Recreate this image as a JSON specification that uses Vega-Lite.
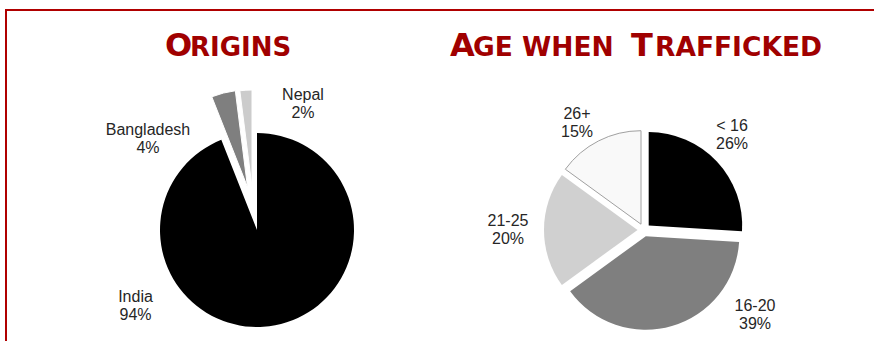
{
  "$schema": "https://vega.github.io/schema/vega-lite/v6.json",
  "width": 868,
  "height": 331,
  "autosize": {"type": "none"},
  "padding": {"left": 6, "top": 10, "right": 0, "bottom": 0},
  "background": "white",
  "view": {"stroke": null},
  "data": {
    "values": [
      {"chart": "Origins", "cat": "India", "pct": 94, "ord": 1},
      {"chart": "Origins", "cat": "Bangladesh", "pct": 4, "ord": 2},
      {"chart": "Origins", "cat": "Nepal", "pct": 2, "ord": 3},
      {"chart": "Age", "cat": "< 16", "pct": 26, "ord": 1},
      {"chart": "Age", "cat": "16-20", "pct": 39, "ord": 2},
      {"chart": "Age", "cat": "21-25", "pct": 20, "ord": 3},
      {"chart": "Age", "cat": "26+", "pct": 15, "ord": 4}
    ]
  },
  "transform": [
    {"stack": "pct", "groupby": ["chart"], "sort": [{"field": "ord", "order": "ascending"}], "as": ["v0", "v1"]},
    {"calculate": "datum.cat + '\\n' + datum.pct + '%'", "as": "label"}
  ],
  "encoding": {
    "x": {"field": "chart", "type": "nominal", "scale": {"type": "point", "padding": 0, "domain": ["Origins", "Age"], "range": [251, 638]}, "axis": null},
    "y": {"value": 220}
  },
  "layer": [
    {
      "transform": [{"filter": "datum.cat === 'India'"}],
      "mark": {"type": "rule", "color": "#b00000", "strokeWidth": 2},
      "encoding": {"x": {"value": -1}, "x2": {"value": 870}, "y": {"value": 0}}
    },
    {
      "transform": [{"filter": "datum.cat === 'India'"}],
      "mark": {"type": "rule", "color": "#b00000", "strokeWidth": 2},
      "encoding": {"x": {"value": 0}, "y": {"value": 0}, "y2": {"value": 333}}
    },
    {
      "transform": [{"filter": "datum.cat === 'India'"}],
      "layer": [
        {"mark": {"type": "arc", "radius": 97},
         "encoding": {
           "theta": {"field": "v0", "type": "quantitative", "scale": {"domain": [0, 100], "range": [0, 6.283185307]}},
           "theta2": {"field": "v1"},
           "color": {"field": "cat", "type": "nominal", "legend": null, "scale": {"domain": ["India", "Bangladesh", "Nepal", "< 16", "16-20", "21-25", "26+"], "range": ["#000000", "#7f7f7f", "#cccccc", "#000000", "#7f7f7f", "#d0d0d0", "#f9f9f9"]}}
         }},
        {"mark": {"type": "text", "dx": -121.5, "dy": 72, "align": "center", "baseline": "alphabetic", "lineBreak": "\n", "lineHeight": 18, "font": "Liberation Sans", "fontSize": 16, "color": "#262626"},
         "encoding": {"text": {"field": "label"}}}
      ]
    },
    {
      "transform": [{"filter": "datum.cat === 'Bangladesh'"}],
      "layer": [
        {"mark": {"type": "arc", "radius": 97, "xOffset": -9.5, "yOffset": -43, "stroke": "white", "strokeWidth": 1},
         "encoding": {
           "theta": {"field": "v0", "type": "quantitative", "scale": {"domain": [0, 100], "range": [0, 6.283185307]}},
           "theta2": {"field": "v1"},
           "color": {"field": "cat", "type": "nominal", "legend": null}
         }},
        {"mark": {"type": "text", "dx": -109, "dy": -95, "align": "center", "baseline": "alphabetic", "lineBreak": "\n", "lineHeight": 18, "font": "Liberation Sans", "fontSize": 16, "color": "#262626"},
         "encoding": {"text": {"field": "label"}}}
      ]
    },
    {
      "transform": [{"filter": "datum.cat === 'Nepal'"}],
      "layer": [
        {"mark": {"type": "arc", "radius": 97, "xOffset": -5, "yOffset": -43, "stroke": "white", "strokeWidth": 1},
         "encoding": {
           "theta": {"field": "v0", "type": "quantitative", "scale": {"domain": [0, 100], "range": [0, 6.283185307]}},
           "theta2": {"field": "v1"},
           "color": {"field": "cat", "type": "nominal", "legend": null}
         }},
        {"mark": {"type": "text", "dx": 46, "dy": -130.5, "align": "center", "baseline": "alphabetic", "lineBreak": "\n", "lineHeight": 18, "font": "Liberation Sans", "fontSize": 16, "color": "#262626"},
         "encoding": {"text": {"field": "label"}}}
      ]
    },
    {
      "transform": [{"filter": "datum.cat === '< 16'"}],
      "layer": [
        {"mark": {"type": "arc", "radius": 93.5, "xOffset": 4.7, "yOffset": -4.5},
         "encoding": {
           "theta": {"field": "v0", "type": "quantitative", "scale": {"domain": [0, 100], "range": [0, 6.283185307]}},
           "theta2": {"field": "v1"},
           "color": {"field": "cat", "type": "nominal", "legend": null}
         }},
        {"mark": {"type": "text", "dx": 88, "dy": -99, "align": "center", "baseline": "alphabetic", "lineBreak": "\n", "lineHeight": 18, "font": "Liberation Sans", "fontSize": 16, "color": "#262626"},
         "encoding": {"text": {"field": "label"}}}
      ]
    },
    {
      "transform": [{"filter": "datum.cat === '16-20'"}],
      "layer": [
        {"mark": {"type": "arc", "radius": 93.5, "xOffset": 1.8, "yOffset": 6.2},
         "encoding": {
           "theta": {"field": "v0", "type": "quantitative", "scale": {"domain": [0, 100], "range": [0, 6.283185307]}},
           "theta2": {"field": "v1"},
           "color": {"field": "cat", "type": "nominal", "legend": null}
         }},
        {"mark": {"type": "text", "dx": 111, "dy": 81, "align": "center", "baseline": "alphabetic", "lineBreak": "\n", "lineHeight": 18, "font": "Liberation Sans", "fontSize": 16, "color": "#262626"},
         "encoding": {"text": {"field": "label"}}}
      ]
    },
    {
      "transform": [{"filter": "datum.cat === '21-25'"}],
      "layer": [
        {"mark": {"type": "arc", "radius": 93.5, "xOffset": -6.5, "yOffset": 0},
         "encoding": {
           "theta": {"field": "v0", "type": "quantitative", "scale": {"domain": [0, 100], "range": [0, 6.283185307]}},
           "theta2": {"field": "v1"},
           "color": {"field": "cat", "type": "nominal", "legend": null}
         }},
        {"mark": {"type": "text", "dx": -136, "dy": -4, "align": "center", "baseline": "alphabetic", "lineBreak": "\n", "lineHeight": 18, "font": "Liberation Sans", "fontSize": 16, "color": "#262626"},
         "encoding": {"text": {"field": "label"}}}
      ]
    },
    {
      "transform": [{"filter": "datum.cat === '26+'"}],
      "layer": [
        {"mark": {"type": "arc", "radius": 93.5, "xOffset": -3, "yOffset": -5.8, "stroke": "#a0a0a0", "strokeWidth": 1},
         "encoding": {
           "theta": {"field": "v0", "type": "quantitative", "scale": {"domain": [0, 100], "range": [0, 6.283185307]}},
           "theta2": {"field": "v1"},
           "color": {"field": "cat", "type": "nominal", "legend": null}
         }},
        {"mark": {"type": "text", "dx": -67, "dy": -111, "align": "center", "baseline": "alphabetic", "lineBreak": "\n", "lineHeight": 18, "font": "Liberation Sans", "fontSize": 16, "color": "#262626"},
         "encoding": {"text": {"field": "label"}}}
      ]
    },
    {
      "transform": [{"filter": "datum.cat === 'India'"}],
      "layer": [
        {"mark": {"type": "text", "text": "O", "dx": -92, "dy": -174, "align": "left", "baseline": "alphabetic", "font": "DejaVu Sans", "fontWeight": "bold", "fontSize": 32, "color": "#a00000"}},
        {"mark": {"type": "text", "text": "RIGINS", "dx": -67, "dy": -174, "align": "left", "baseline": "alphabetic", "font": "DejaVu Sans", "fontWeight": "bold", "fontSize": 26, "color": "#a00000"}}
      ]
    },
    {
      "transform": [{"filter": "datum.cat === '< 16'"}],
      "layer": [
        {"mark": {"type": "text", "text": "A", "dx": -194, "dy": -174, "align": "left", "baseline": "alphabetic", "font": "DejaVu Sans", "fontWeight": "bold", "fontSize": 32, "color": "#a00000"}},
        {"mark": {"type": "text", "text": "GE WHEN", "dx": -171, "dy": -174, "align": "left", "baseline": "alphabetic", "font": "DejaVu Sans", "fontWeight": "bold", "fontSize": 26.5, "color": "#a00000"}},
        {"mark": {"type": "text", "text": "T", "dx": -13, "dy": -174, "align": "left", "baseline": "alphabetic", "font": "DejaVu Sans", "fontWeight": "bold", "fontSize": 32, "color": "#a00000"}},
        {"mark": {"type": "text", "text": "RAFFICKED", "dx": 11, "dy": -174, "align": "left", "baseline": "alphabetic", "font": "DejaVu Sans", "fontWeight": "bold", "fontSize": 26.5, "color": "#a00000"}}
      ]
    }
  ]
}
